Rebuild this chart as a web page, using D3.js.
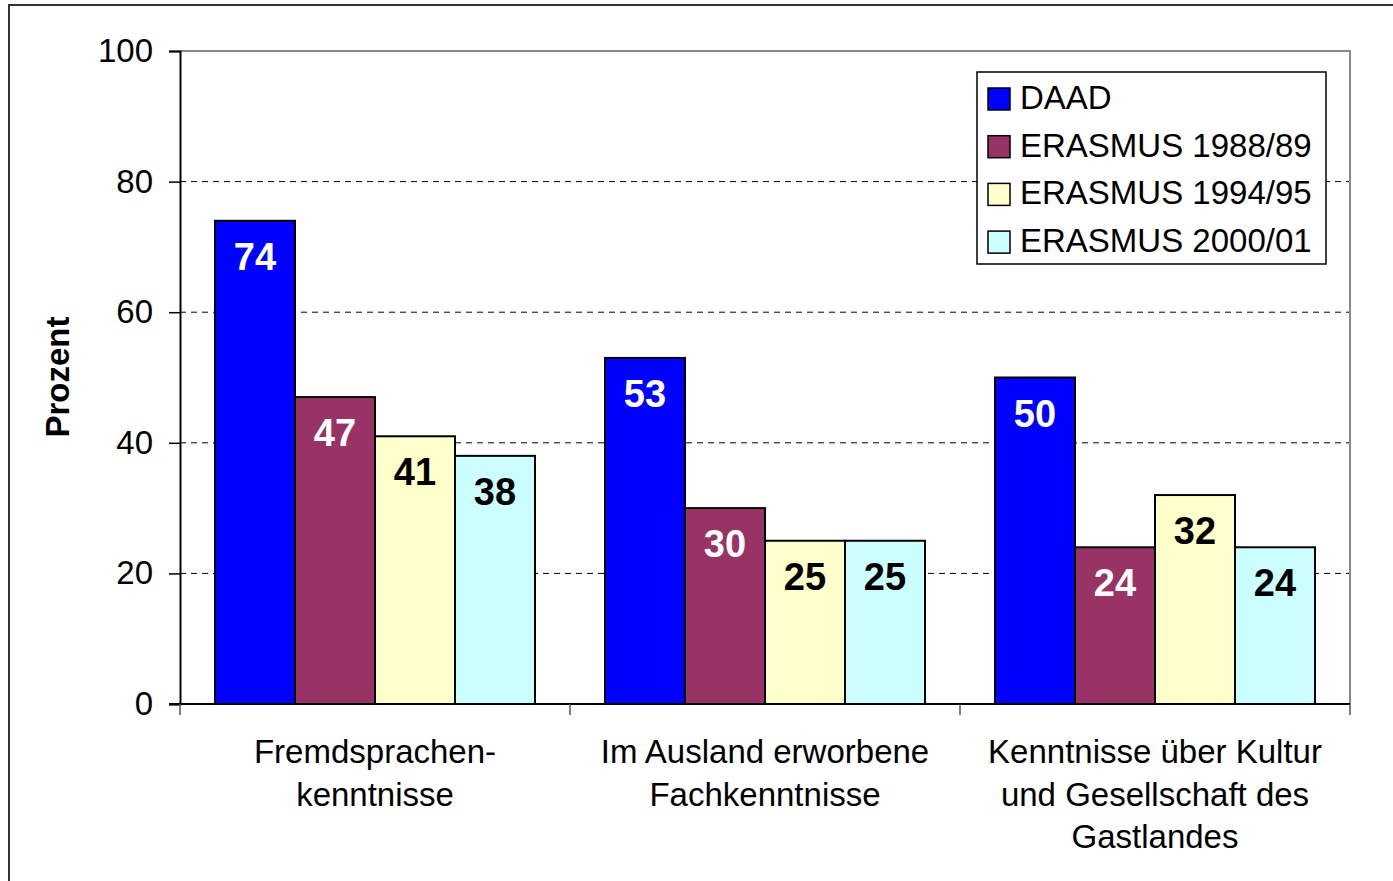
<!DOCTYPE html>
<html>
<head>
<meta charset="utf-8">
<script src="https://cdn.jsdelivr.net/npm/d3@7"></script>
<style>
  body { margin: 0; background: #fff; }
  text { font-family: "Liberation Sans", Arial, sans-serif; }
</style>
</head>
<body>
<svg id="chart"></svg>
<script>
const categories = [
  ["Fremdsprachen-", "kenntnisse"],
  ["Im Ausland erworbene", "Fachkenntnisse"],
  ["Kenntnisse über Kultur", "und Gesellschaft des", "Gastlandes"]
];
const seriesNames = ["DAAD", "ERASMUS 1988/89", "ERASMUS 1994/95", "ERASMUS 2000/01"];
const seriesColors = ["#0000ff", "#993366", "#ffffcc", "#ccffff"];
const labelColors = ["#ffffff", "#ffffff", "#000000", "#000000"];
const daad = [74, 53, 50];
const erasmus8889 = [47, 30, 24];
const erasmus9495 = [41, 25, 32];
const erasmus0001 = [38, 25, 24];
const yTicks = [0, 20, 40, 60, 80, 100];

const values = [daad, erasmus8889, erasmus9495, erasmus0001];

const width = 1393, height = 881;
const margin = { top: 51, right: 43, bottom: 177, left: 180 };
const innerW = width - margin.left - margin.right;
const innerH = height - margin.top - margin.bottom;

const svg = d3.select("#chart").attr("width", width).attr("height", height);

// outer frame
svg.append("rect")
  .attr("x", 9).attr("y", 5)
  .attr("width", width + 20).attr("height", height + 20)
  .attr("fill", "none").attr("stroke", "#333").attr("stroke-width", 2);

const g = svg.append("g").attr("transform", `translate(${margin.left},${margin.top})`);

const x0 = d3.scaleBand().domain(d3.range(categories.length)).range([0, innerW]).padding(0);
const x1 = d3.scaleBand().domain(d3.range(seriesNames.length)).range([0, x0.bandwidth()])
  .paddingInner(0).paddingOuter(0.4375);
const y = d3.scaleLinear().domain([0, 100]).range([innerH, 0]);

// gridlines
g.append("g").selectAll("line")
  .data(yTicks.filter(d => d > 0 && d < 100))
  .join("line")
  .attr("x1", 0).attr("x2", innerW)
  .attr("y1", d => y(d)).attr("y2", d => y(d))
  .attr("stroke", "#000").attr("stroke-dasharray", "6,5").attr("stroke-width", 1);

// plot frame top/right
g.append("path")
  .attr("d", `M0,${y(100)}H${innerW}V${y(0)}`)
  .attr("fill", "none").attr("stroke", "#888").attr("stroke-width", 2);

// bars
const groups = g.append("g").selectAll("g")
  .data(categories.map((c, i) => i))
  .join("g")
  .attr("transform", i => `translate(${x0(i)},0)`);

groups.selectAll("rect")
  .data(i => values.map((s, j) => ({ s: j, v: s[i] })))
  .join("rect")
  .attr("x", d => x1(d.s))
  .attr("y", d => y(d.v))
  .attr("width", x1.bandwidth())
  .attr("height", d => y(0) - y(d.v))
  .attr("fill", d => seriesColors[d.s])
  .attr("stroke", "#000").attr("stroke-width", 2);

groups.selectAll("text")
  .data(i => values.map((s, j) => ({ s: j, v: s[i] })))
  .join("text")
  .attr("x", d => x1(d.s) + x1.bandwidth() / 2)
  .attr("y", d => y(d.v) + 49)
  .attr("text-anchor", "middle")
  .attr("font-weight", "bold")
  .attr("font-size", 38)
  .attr("fill", d => labelColors[d.s])
  .text(d => d.v);

// y axis
const yAxis = g.append("g")
  .call(d3.axisLeft(y).tickValues(yTicks).tickSize(11).tickPadding(16).tickFormat(d3.format("d")));
yAxis.select(".domain").attr("stroke", "#000").attr("stroke-width", 2);
yAxis.selectAll(".tick line").attr("stroke", "#000").attr("stroke-width", 1.5);
yAxis.selectAll(".tick text").attr("font-size", 33).attr("fill", "#000")
  .attr("font-family", "Liberation Sans, Arial, sans-serif");

// x axis
const xAxis = g.append("g").attr("transform", `translate(0,${innerH})`);
xAxis.append("line").attr("x1", -11).attr("x2", innerW)
  .attr("stroke", "#000").attr("stroke-width", 2);
xAxis.selectAll(".xt")
  .data(d3.range(categories.length + 1))
  .join("line")
  .attr("class", "xt")
  .attr("x1", i => i < categories.length ? x0(i) : innerW)
  .attr("x2", i => i < categories.length ? x0(i) : innerW)
  .attr("y1", 0).attr("y2", 11)
  .attr("stroke", "#555").attr("stroke-width", 1.5);

xAxis.selectAll(".xl")
  .data(categories)
  .join("text")
  .attr("class", "xl")
  .attr("text-anchor", "middle")
  .attr("font-size", 33)
  .attr("fill", "#000")
  .attr("transform", (d, i) => `translate(${x0(i) + x0.bandwidth() / 2},${59})`)
  .selectAll("tspan")
  .data(d => d)
  .join("tspan")
  .attr("x", 0)
  .attr("dy", (d, i) => i === 0 ? 0 : 42.5)
  .text(d => d);

// y title
svg.append("text")
  .attr("transform", `translate(69,${377}) rotate(-90)`)
  .attr("text-anchor", "middle")
  .attr("font-weight", "bold")
  .attr("font-size", 33)
  .text("Prozent");

// legend
const legend = svg.append("g").attr("transform", "translate(977,72)");
legend.append("rect")
  .attr("width", 349).attr("height", 192)
  .attr("fill", "#fff").attr("stroke", "#000").attr("stroke-width", 1.5);
const items = legend.selectAll(".li")
  .data(seriesNames)
  .join("g")
  .attr("class", "li")
  .attr("transform", (d, i) => `translate(0,${i * 47.7})`);
items.append("rect")
  .attr("x", 11).attr("y", 16).attr("width", 22).attr("height", 22)
  .attr("fill", (d, i) => seriesColors[i])
  .attr("stroke", "#000").attr("stroke-width", 1.5);
items.append("text")
  .attr("x", 43).attr("y", 37)
  .attr("font-size", 33)
  .attr("fill", "#000")
  .text(d => d);
</script>
</body>
</html>
